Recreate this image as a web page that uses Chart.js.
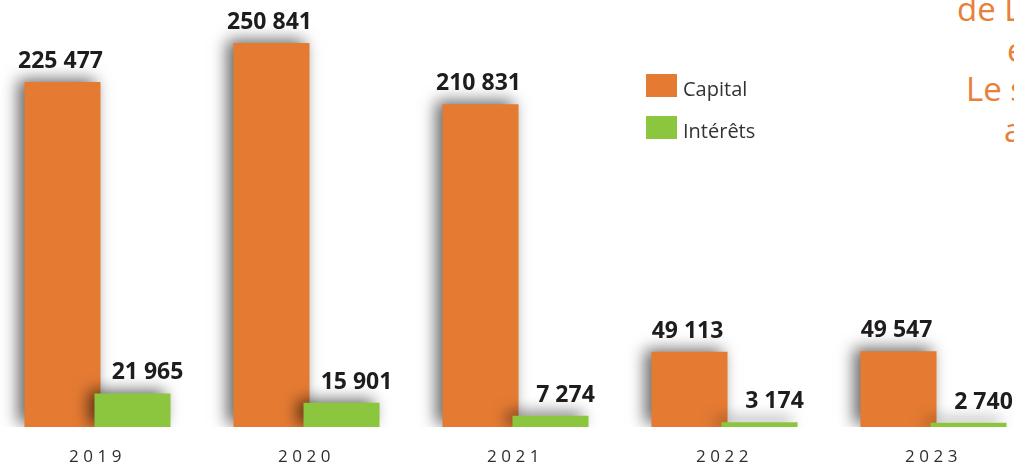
<!DOCTYPE html>
<html lang="fr">
<head>
    <meta charset="UTF-8">
    <title>Capital et intérêts</title>
    <script src="https://cdn.jsdelivr.net/npm/chart.js"></script>
    <style>
        html, body { margin: 0; padding: 0; background: #fff; overflow: hidden; }
        body { width: 1014px; height: 469px; position: relative; }
        #chart-box { position: absolute; left: -7px; top: 0; width: 1045px; height: 469px; }
        .side-text {
            position: absolute; white-space: nowrap;
            font-family: "Open Sans", sans-serif; font-size: 33px; line-height: 33px;
            color: #e8803a;
        }
    </style>
</head>
<body>
    <!--Side text cut by the page edge-->
    <div class="side-text" style="left: 957px; top: -8px;">de L</div>
    <div class="side-text" style="left: 1007px; top: 33px;">e</div>
    <div class="side-text" style="left: 966px; top: 72px;">Le s</div>
    <div class="side-text" style="left: 1004px; top: 113px;">a</div>

    <div id="chart-box">
        <canvas id="myChart"></canvas>
    </div>

<script>
// Chart data
const years = ["2019", "2020", "2021", "2022", "2023"]
const capital = [225477, 250841, 210831, 49113, 49547]
const interets = [21965, 15901, 7274, 3174, 2740]
const seriesNames = ["Capital", "Intérêts"]

const orange = "rgb(229, 123, 51)"
const green = "rgb(140, 198, 63)"

// "225477" -> "225 477"
function formatValue(v) {
    return String(v).replace(/\B(?=(\d{3})+(?!\d))/g, " ")
}

// Letter spacing only for the year labels
const spacedTicks = {
    id: "spacedTicks",
    beforeDraw(chart) {
        chart.ctx.letterSpacing = "4.5px"
    }
}

// Draw orange first, green on top, both with a soft shadow to the left
const barShadow = {
    id: "barShadow",
    beforeDatasetsDraw(chart) {
        const ctx = chart.ctx
        const a = chart.chartArea
        ctx.letterSpacing = "0px"
        ctx.save()
        ctx.beginPath()
        ctx.rect(a.left, a.top, a.right - a.left, a.bottom - a.top)
        ctx.clip()
        ctx.shadowColor = "rgba(0, 0, 0, 0.6)"
        ctx.shadowBlur = 15
        ctx.shadowOffsetX = -6
        ctx.shadowOffsetY = -3
        chart.getDatasetMeta(0).controller.draw()
        chart.getDatasetMeta(1).controller.draw()
        ctx.restore()
        return false
    }
}

// Value labels and legend
const labelsAndLegend = {
    id: "labelsAndLegend",
    afterDraw(chart) {
        const ctx = chart.ctx
        const shift = [-2, 15]
        ctx.save()
        ctx.letterSpacing = "0px"
        ctx.font = "bold 23px 'Open Sans'"
        ctx.fillStyle = "#1f1c1d"
        ctx.textAlign = "center"
        ctx.textBaseline = "alphabetic"
        chart.data.datasets.forEach((ds, i) => {
            chart.getDatasetMeta(i).data.forEach((bar, j) => {
                ctx.fillText(formatValue(ds.data[j]), bar.x + shift[i], bar.y - 14)
            })
        })

        // legend (canvas is shifted 7px left of the page)
        ctx.font = "20px 'Open Sans'"
        ctx.textAlign = "left"
        chart.data.datasets.forEach((ds, i) => {
            const top = 74 + i * 42
            ctx.fillStyle = ds.backgroundColor
            ctx.fillRect(653, top, 31, 23)
            ctx.fillStyle = "#333"
            ctx.fillText(ds.label, 690, top + 22)
        })
        ctx.restore()
    }
}

new Chart(document.getElementById("myChart"), {
    type: "bar",
    data: {
        labels: years,
        datasets: [
            { label: seriesNames[0], data: capital, backgroundColor: orange },
            { label: seriesNames[1], data: interets, backgroundColor: green }
        ]
    },
    options: {
        responsive: true,
        maintainAspectRatio: false,
        animation: false,
        layout: { padding: 0 },
        categoryPercentage: 0.67,
        barPercentage: 1.086,
        plugins: {
            legend: { display: false },
            tooltip: { enabled: false }
        },
        scales: {
            x: {
                grid: { display: false, drawTicks: false },
                border: { display: false },
                ticks: {
                    color: "#2e2e2e",
                    font: { family: "Open Sans", size: 17 },
                    padding: 20
                },
                afterFit(scale) { scale.height = 42 }
            },
            y: {
                display: false,
                min: 0,
                max: 279000
            }
        }
    },
    plugins: [spacedTicks, barShadow, labelsAndLegend]
})
</script>
</body>
</html>
